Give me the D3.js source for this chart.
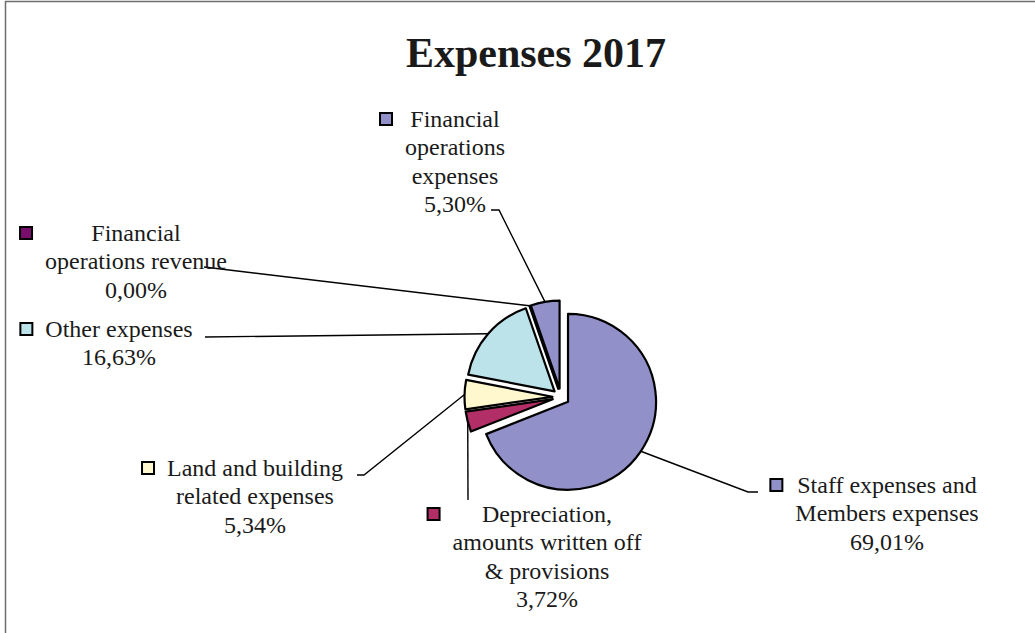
<!DOCTYPE html>
<html>
<head>
<meta charset="utf-8">
<script src="https://cdn.jsdelivr.net/npm/d3@7/dist/d3.min.js"></script>
<style>
  html, body { margin: 0; padding: 0; background: #fff; }
  svg { display: block; }
  text { font-family: "Liberation Serif", "Times New Roman", serif; fill: #1a1a1a; }
</style>
</head>
<body>
<svg id="chart" width="1035" height="633"></svg>
<script>
// Expense categories, in clockwise order starting at 12 o'clock
const categories = [
  "Staff expenses and Members expenses",
  "Depreciation, amounts written off & provisions",
  "Land and building related expenses",
  "Other expenses",
  "Financial operations revenue",
  "Financial operations expenses"
];
// Share of total expenses, in percent
const values = [69.01, 3.72, 5.34, 16.63, 0.00, 5.30];
// How each category name wraps inside its data label
const labelLines = [
  ["Staff expenses and", "Members expenses"],
  ["Depreciation,", "amounts written off", "& provisions"],
  ["Land and building", "related expenses"],
  ["Other expenses"],
  ["Financial", "operations revenue"],
  ["Financial", "operations", "expenses"]
];
const colors = ["#9290c8", "#b12f66", "#fff8ce", "#bce2ea", "#780d6c", "#9290c8"];

// Label placement: centre x, first baseline, and the leader line's bend/end points
const labelLayout = [
  { cx: 887, y: 493, leader: [[748, 492], [758, 492]] },
  { cx: 547, y: 522, leader: [[468, 500]] },
  { cx: 255, y: 476, leader: [[364, 475], [357, 475]] },
  { cx: 119, y: 337, leader: [[205, 337]] },
  { cx: 136, y: 241, leader: [[204, 267]] },
  { cx: 455, y: 127, leader: [[499, 210], [491, 210]] }
];

const svg = d3.select("#chart");
const W = 1035, H = 633;

svg.append("rect").attr("width", W).attr("height", H).attr("fill", "#fff");
// chart area frame
svg.append("rect")
  .attr("x", 5.5).attr("y", 1.5)
  .attr("width", W + 20).attr("height", H + 20)
  .attr("fill", "none").attr("stroke", "#6e6e6e").attr("stroke-width", 1.5);

svg.append("text")
  .attr("x", 536).attr("y", 67)
  .attr("text-anchor", "middle")
  .style("font-size", "42px").style("font-weight", "bold")
  .text("Expenses 2017");

const cx = 561, cy = 397, radius = 88, explode = 8.5;
const lineH = 28.3;

const pie = d3.pie().sort(null).value(d => d).startAngle(0).endAngle(2 * Math.PI);
const arcs = pie(values);
const arc = d3.arc().innerRadius(0).outerRadius(radius);

const mid = a => (a.startAngle + a.endAngle) / 2;
const dir = a => [Math.sin(mid(a)), -Math.cos(mid(a))];

const g = svg.append("g").attr("transform", `translate(${cx},${cy})`);

// exploded slices
g.selectAll("path.slice")
  .data(arcs)
  .join("path")
  .attr("class", "slice")
  .attr("d", arc)
  .attr("transform", d => {
    const [dx, dy] = dir(d);
    return `translate(${dx * explode},${dy * explode})`;
  })
  .attr("fill", (d, i) => colors[i])
  .attr("stroke", "#000")
  .attr("stroke-width", 2.2)
  .attr("stroke-linejoin", "round");

// leader lines from the outer middle of each slice
const line = d3.line();
svg.selectAll("path.leader")
  .data(arcs)
  .join("path")
  .attr("class", "leader")
  .attr("d", (d, i) => {
    const [dx, dy] = dir(d);
    const start = [cx + dx * (radius + explode), cy + dy * (radius + explode)];
    return line([start, ...labelLayout[i].leader]);
  })
  .attr("fill", "none")
  .attr("stroke", "#000")
  .attr("stroke-width", 1.4);

// data labels: legend key + category name + percentage
const fmt = v => d3.format(".2f")(v).replace(".", ",") + "%";

arcs.forEach((d, i) => {
  const lay = labelLayout[i];
  const lines = [...labelLines[i], fmt(values[i])];
  const lg = svg.append("g");
  const t = lg.append("text")
    .attr("text-anchor", "middle")
    .style("font-size", "24px");
  lines.forEach((s, k) => {
    t.append("tspan")
      .attr("x", lay.cx)
      .attr("y", lay.y + k * lineH)
      .text(s);
  });
  let maxW = 0;
  t.selectAll("tspan").each(function () {
    maxW = Math.max(maxW, this.getComputedTextLength());
  });
  const left = lay.cx - maxW / 2;
  lg.append("rect")
    .attr("x", left - 25).attr("y", lay.y - 14)
    .attr("width", 12).attr("height", 12)
    .attr("fill", colors[i])
    .attr("stroke", "#000").attr("stroke-width", 2);
});
</script>
</body>
</html>
